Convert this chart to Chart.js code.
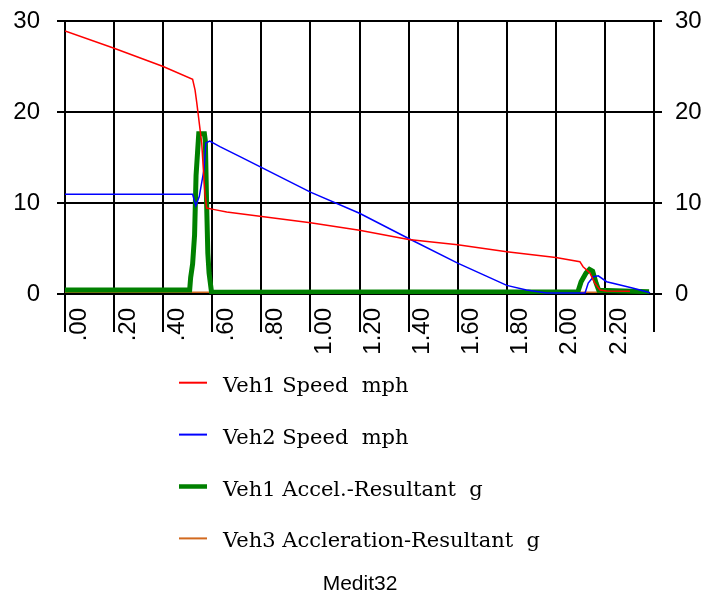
<!DOCTYPE html>
<html>
<head>
<meta charset="utf-8">
<script src="https://cdn.jsdelivr.net/npm/chart.js@4.4.1/dist/chart.umd.min.js"></script>
<style>
  html, body { margin: 0; padding: 0; background: #fff; }
  canvas { display: block; }
</style>
</head>
<body>
<canvas id="c" width="704" height="595"></canvas>
<script>
// ---- data (time in seconds) ----
const veh1SpeedT = [0, 0.2, 0.4, 0.52, 0.53, 0.537, 0.547, 0.557, 0.564, 0.570, 0.577, 0.604, 0.659, 1.0, 1.2, 1.4, 1.6, 1.8, 2.0, 2.098, 2.111, 2.139, 2.159, 2.180, 2.207, 2.302];
const veh1SpeedV = [28.9, 27.0, 25.0, 23.6, 22.4, 21.0, 18.8, 16.6, 13.6, 11.1, 9.45, 9.3, 9.0, 7.84, 7.0, 6.0, 5.4, 4.65, 4.0, 3.55, 3.0, 2.3, 1.2, 0.44, 0.33, 0.3];

const veh2SpeedT = [0, 0.52, 0.533, 0.547, 0.566, 0.574, 0.59, 0.631, 0.713, 1.0, 1.2, 1.4, 1.6, 1.8, 1.88, 1.963, 2.119, 2.132, 2.153, 2.173, 2.207, 2.262, 2.316, 2.384];
const veh2SpeedV = [10.95, 10.95, 9.7, 10.7, 13.6, 16.6, 16.8, 16.2, 15.1, 11.2, 8.87, 6.1, 3.4, 0.95, 0.44, 0.1, 0.12, 1.2, 1.9, 2.0, 1.35, 1.0, 0.63, 0.14];

const veh1AccelT = [0, 0.508, 0.512, 0.52, 0.528, 0.534, 0.54, 0.545, 0.568, 0.572, 0.577, 0.582, 0.587, 0.597, 2.09, 2.103, 2.123, 2.137, 2.15, 2.164, 2.175, 2.38];
const veh1AccelV = [0.45, 0.45, 1.8, 3.3, 6.5, 13.0, 15.5, 17.6, 17.6, 16.8, 10.0, 4.5, 2.3, 0.2, 0.25, 1.35, 2.3, 2.7, 2.5, 1.2, 0.4, 0.25];

const veh3AccelT = [0, 0.5, 2.38];
const veh3AccelV = [0.2, 0.2, 0.2];

const seriesLabels = ['Veh1 Speed  mph', 'Veh2 Speed  mph', 'Veh1 Accel.-Resultant  g', 'Veh3 Accleration-Resultant  g'];
const footerText = 'Medit32';
const yTicks = [0, 10, 20, 30];
const xMin = 0, xMax = 2.4, xStep = 0.2;

const SANS = '"Liberation Sans", Arial, sans-serif';

function pts(t, v) { return t.map((x, i) => ({ x: x, y: v[i] })); }

const legendPlugin = {
  id: 'stackLegend',
  afterDraw(chart) {
    const ctx = chart.ctx;
    const ds = chart.data.datasets;
    ctx.save();
    ds.forEach((d, i) => {
      const y = 382.7 + i * 51.9;
      ctx.beginPath();
      ctx.strokeStyle = d.borderColor;
      ctx.lineWidth = d.legendWidth;
      ctx.moveTo(179, y);
      ctx.lineTo(207, y);
      ctx.stroke();
      ctx.fillStyle = '#000';
      ctx.font = '21px "DejaVu Serif"';
      ctx.textBaseline = 'alphabetic';
      ctx.textAlign = 'left';
      ctx.fillText(d.label, 223, y + 9);
    });
    ctx.font = '21px ' + SANS;
    ctx.textAlign = 'center';
    ctx.textBaseline = 'alphabetic';
    ctx.fillText(footerText, 360, 590);
    ctx.restore();
  }
};

function fixY(w) {
  return function (s) { s.width = w; s.paddingTop = 0; s.paddingBottom = 0; };
}

new Chart(document.getElementById('c'), {
  type: 'line',
  data: {
    datasets: [
      { label: seriesLabels[0], data: pts(veh1SpeedT, veh1SpeedV), borderColor: '#ff0000', borderWidth: 1.5, legendWidth: 2, pointRadius: 0, tension: 0, fill: false },
      { label: seriesLabels[1], data: pts(veh2SpeedT, veh2SpeedV), borderColor: '#0000ff', borderWidth: 1.5, legendWidth: 2, pointRadius: 0, tension: 0, fill: false },
      { label: seriesLabels[2], data: pts(veh1AccelT, veh1AccelV), borderColor: '#008000', borderWidth: 5, legendWidth: 4.5, pointRadius: 0, tension: 0, fill: false },
      { label: seriesLabels[3], data: pts(veh3AccelT, veh3AccelV), borderColor: '#d2691e', borderWidth: 1.5, legendWidth: 2, pointRadius: 0, tension: 0, fill: false }
    ]
  },
  options: {
    responsive: false,
    animation: false,
    layout: { padding: { top: 21, left: 0, right: 0, bottom: 0 } },
    plugins: {
      legend: { display: false },
      tooltip: { enabled: false },
      title: { display: false }
    },
    scales: {
      x: {
        type: 'linear', min: xMin, max: xMax,
        afterFit(s) { s.height = 301; s.paddingLeft = 0; s.paddingRight = 0; },
        grid: { color: '#000', lineWidth: 2, tickLength: 38, drawTicks: true },
        border: { display: true, color: '#000', width: 2 },
        ticks: {
          stepSize: xStep, autoSkip: false, minRotation: 90, maxRotation: 90,
          padding: -24, labelOffset: 14, color: '#000',
          font: { family: SANS, size: 24 },
          callback(v) {
            if (Math.abs(v - xMax) < 1e-6) return '';
            const s = Number(v).toFixed(2);
            return s.startsWith('0') ? s.slice(1) : s;
          }
        }
      },
      y: {
        position: 'left', min: 0, max: 30,
        afterFit: fixY(65),
        afterBuildTicks(s) { s.ticks = yTicks.map(v => ({ value: v })); },
        grid: { color: '#000', lineWidth: 2, tickLength: 8 },
        border: { display: true, color: '#000', width: 2 },
        ticks: { padding: 17, color: '#000', font: { family: SANS, size: 24 } }
      },
      y2: {
        position: 'right', min: 0, max: 30,
        afterFit: fixY(50),
        afterBuildTicks(s) { s.ticks = yTicks.map(v => ({ value: v })); },
        grid: { color: '#000', lineWidth: 2, tickLength: 8, drawOnChartArea: false },
        border: { display: true, color: '#000', width: 2 },
        ticks: { padding: 13, color: '#000', font: { family: SANS, size: 24 } }
      }
    }
  },
  plugins: [legendPlugin]
});
</script>
</body>
</html>
